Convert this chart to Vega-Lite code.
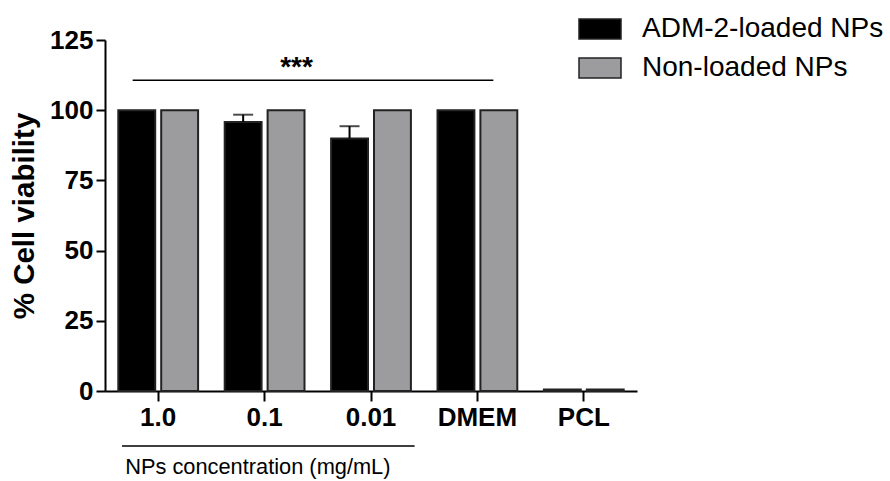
{
  "$schema": "https://vega.github.io/schema/vega-lite/v6.json",
  "autosize": {"type": "none"},
  "padding": {"left": 105, "top": 40, "right": 253, "bottom": 90},
  "width": 532,
  "height": 351,
  "config": {
    "font": "Liberation Sans",
    "view": {"stroke": null},
    "axis": {"domainColor": "#000", "tickColor": "#000", "labelColor": "#000", "titleColor": "#000", "grid": false}
  },
  "data": {
    "values": [
      {"conc": "1.0", "group": "ADM-2-loaded NPs", "viability": 100, "upper": null},
      {"conc": "1.0", "group": "Non-loaded NPs", "viability": 100, "upper": null},
      {"conc": "0.1", "group": "ADM-2-loaded NPs", "viability": 95.8, "upper": 98.4},
      {"conc": "0.1", "group": "Non-loaded NPs", "viability": 100, "upper": null},
      {"conc": "0.01", "group": "ADM-2-loaded NPs", "viability": 89.9, "upper": 94.3},
      {"conc": "0.01", "group": "Non-loaded NPs", "viability": 100, "upper": null},
      {"conc": "DMEM", "group": "ADM-2-loaded NPs", "viability": 100, "upper": null},
      {"conc": "DMEM", "group": "Non-loaded NPs", "viability": 100, "upper": null},
      {"conc": "PCL", "group": "ADM-2-loaded NPs", "viability": 0.5, "upper": null},
      {"conc": "PCL", "group": "Non-loaded NPs", "viability": 0.5, "upper": null}
    ]
  },
  "resolve": {"scale": {"x": "independent"}},
  "layer": [
    {
      "encoding": {
        "x": {
          "field": "conc", "type": "nominal", "sort": ["1.0", "0.1", "0.01", "DMEM", "PCL"],
          "scale": {"paddingInner": 0.25, "paddingOuter": 0.125},
          "axis": {"title": null, "labelAngle": 0, "labelFontSize": 26, "labelFontWeight": "bold", "tickSize": 10, "tickWidth": 2, "domainWidth": 2, "labelPadding": 3}
        },
        "xOffset": {"field": "group", "type": "nominal", "scale": {"paddingInner": 0.14}}
      },
      "layer": [
        {
          "mark": {"type": "bar", "stroke": "#222", "strokeWidth": 2},
          "encoding": {
            "y": {
              "field": "viability", "type": "quantitative",
              "scale": {"domain": [0, 125], "nice": false, "zero": true},
              "axis": {"values": [0, 25, 50, 75, 100, 125], "title": "% Cell viability", "titleFontSize": 29.5, "titleFontWeight": "bold", "titlePadding": 10, "labelFontSize": 26, "labelFontWeight": "bold", "tickSize": 9, "tickWidth": 2, "domainWidth": 2, "labelPadding": 3}
            },
            "fill": {
              "field": "group", "type": "nominal",
              "scale": {"domain": ["ADM-2-loaded NPs", "Non-loaded NPs"], "range": ["#000000", "#9c9c9e"]},
              "legend": {"title": null, "orient": "none", "legendX": 473, "legendY": -33, "symbolType": "M-1,-0.476H1V0.476H-1Z", "symbolSize": 1764, "symbolStrokeColor": "#222", "symbolStrokeWidth": 1.5, "labelFontSize": 28, "labelLimit": 0, "labelOffset": 20, "rowPadding": 3, "labelColor": "#000"}
            }
          }
        },
        {
          "transform": [{"filter": "datum.upper != null"}],
          "mark": {"type": "rule", "color": "#000", "strokeWidth": 2},
          "encoding": {
            "y": {"field": "viability", "type": "quantitative"},
            "y2": {"field": "upper"}
          }
        },
        {
          "transform": [{"filter": "datum.upper != null"}],
          "mark": {"type": "tick", "color": "#000", "size": 20, "thickness": 2},
          "encoding": {
            "y": {"field": "upper", "type": "quantitative"}
          }
        }
      ]
    },
    {
      "data": {"values": [{}]},
      "layer": [
        {
          "mark": {"type": "rule", "color": "#000", "strokeWidth": 1.5},
          "encoding": {
            "x": {"datum": 0.26, "type": "quantitative", "scale": {"domain": [0, 5], "nice": false, "zero": true}, "axis": null},
            "x2": {"datum": 3.65},
            "y": {"datum": 110.7, "type": "quantitative"}
          }
        },
        {
          "mark": {"type": "text", "text": "***", "fontSize": 28, "fontWeight": "bold", "align": "center", "baseline": "alphabetic", "color": "#000"},
          "encoding": {
            "x": {"datum": 1.8, "type": "quantitative"},
            "y": {"datum": 112.2, "type": "quantitative"}
          }
        },
        {
          "mark": {"type": "rule", "color": "#000", "strokeWidth": 1.5},
          "encoding": {
            "x": {"datum": 0.16, "type": "quantitative"},
            "x2": {"datum": 2.91},
            "y": {"datum": -19.6, "type": "quantitative"}
          }
        },
        {
          "mark": {"type": "text", "text": "NPs concentration (mg/mL)", "fontSize": 21.8, "align": "left", "baseline": "middle", "color": "#000"},
          "encoding": {
            "x": {"datum": 0.19, "type": "quantitative"},
            "y": {"datum": -27, "type": "quantitative"}
          }
        }
      ]
    }
  ]
}
